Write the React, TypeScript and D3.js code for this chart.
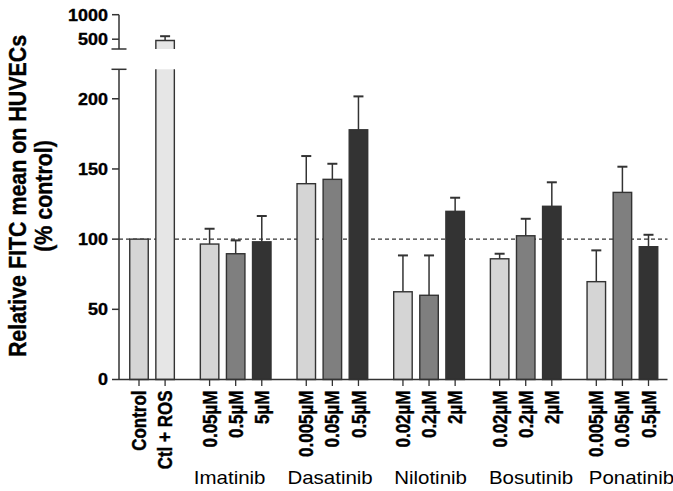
import React from 'react';
import * as d3 from 'd3';

const tickLabels = ['Control', 'Ctl + ROS', '0.05µM', '0.5µM', '5µM', '0.005µM', '0.05µM', '0.5µM', '0.02µM', '0.2µM', '2µM', '0.02µM', '0.2µM', '2µM', '0.005µM', '0.05µM', '0.5µM'];
const groupNames = ['Imatinib', 'Dasatinib', 'Nilotinib', 'Bosutinib', 'Ponatinib'];
const groupOf = [0, 0, 1, 1, 1, 2, 2, 2, 3, 3, 3, 4, 4, 4, 5, 5, 5];
const means = [100, 472, 96.5, 89.6, 98.1, 139.5, 142.6, 177.9, 62.5, 60.0, 119.8, 86, 102.4, 123.4, 69.7, 133.3, 94.6];
const errs = [0, 89, 10.9, 9.5, 18.4, 19.7, 11.1, 23.8, 25.9, 28.4, 9.7, 3.6, 12.1, 17.1, 22.3, 18.3, 8.5];
const shades = ['light', 'lighter', 'light', 'mid', 'dark', 'light', 'mid', 'dark', 'light', 'mid', 'dark', 'light', 'mid', 'dark', 'light', 'mid', 'dark'];
const lowerTicks = [0, 50, 100, 150, 200];
const upperTicks = [500, 1000];
const refValue = 100;

const fills: Record<string, string> = { lighter: '#e6e6e6', light: '#d5d5d5', mid: '#7f7f7f', dark: '#333333' };
const INK = '#333333';
const FONT = '"Liberation Sans", Arial, Helvetica, sans-serif';
const boldStyle = { fontWeight: 'bold' as const, fill: '#000', stroke: '#000', strokeWidth: 0.35 };

export default function App() {
  const W = 673, H = 491;
  const axisX = 119;
  const gap = 0.705;
  const pos = tickLabels.map((_, i) => i + gap * groupOf[i]);
  const x = d3.scaleLinear().domain([0, pos[pos.length - 1]]).range([139, 648.5]);
  const yLow = d3.scaleLinear().domain([0, 221]).range([379.5, 69.3]);
  const yUp = d3.scaleLinear().domain([300, 1000]).range([49, 14.7]);
  const barW = 18.5;
  const xEnd = 667.5;
  const capW = 10;

  const groupCenters = groupNames.map((_, g) => {
    const idx = groupOf.map((v, i) => (v === g + 1 ? i : -1)).filter(i => i >= 0);
    return d3.mean(idx.map(i => x(pos[i]))) as number;
  });
  const labelX = d3.scaleLinear().domain([0, groupNames.length - 1]).range([groupCenters[0] - 6, groupCenters[groupCenters.length - 1] + 9]);

  return (
    <svg width={W} height={H} style={{ position: 'absolute', left: 0, top: 0 }} fontFamily={FONT}>
      <rect width={W} height={H} fill="#fff" />
      <line x1={axisX} x2={xEnd} y1={yLow(refValue)} y2={yLow(refValue)} stroke={INK} strokeWidth={1.3} strokeDasharray="4 3" />
      {means.map((m, i) => {
        const cx = x(pos[i]);
        const x0 = cx - barW / 2, x1 = cx + barW / 2;
        const broken = m > yLow.domain()[1];
        if (!broken) {
          const yt = yLow(m);
          const ye = yLow(m + errs[i]);
          return (
            <g key={i}>
              {errs[i] > 0 && (
                <g stroke={INK}>
                  <line x1={cx} x2={cx} y1={yt} y2={ye} strokeWidth={1.5} />
                  <line x1={cx - capW / 2} x2={cx + capW / 2} y1={ye} y2={ye} strokeWidth={2} />
                </g>
              )}
              <rect x={x0} y={yt} width={barW} height={yLow(0) - yt} fill={fills[shades[i]]} stroke={INK} strokeWidth={1.4} />
            </g>
          );
        }
        const yTopLow = yLow(yLow.domain()[1]);
        const yBotUp = yUp(yUp.domain()[0]);
        const yt = yUp(m);
        const ye = yUp(m + errs[i]);
        return (
          <g key={i}>
            <g stroke={INK}>
              <line x1={cx} x2={cx} y1={yt} y2={ye} strokeWidth={1.5} />
              <line x1={cx - capW / 2} x2={cx + capW / 2} y1={ye} y2={ye} strokeWidth={2} />
            </g>
            <rect x={x0} y={yTopLow} width={barW} height={yLow(0) - yTopLow} fill={fills[shades[i]]} />
            <path d={`M${x0},${yTopLow}V${yLow(0)}H${x1}V${yTopLow}`} fill="none" stroke={INK} strokeWidth={1.4} />
            <rect x={x0} y={yt} width={barW} height={yBotUp - yt} fill={fills[shades[i]]} />
            <path d={`M${x0},${yBotUp}V${yt}H${x1}V${yBotUp}`} fill="none" stroke={INK} strokeWidth={1.4} />
          </g>
        );
      })}
      <line x1={axisX} x2={axisX} y1={yLow(0)} y2={yLow(221)} stroke={INK} strokeWidth={1.5} />
      <line x1={axisX - 7.5} x2={axisX + 7.5} y1={yLow(221)} y2={yLow(221)} stroke={INK} strokeWidth={1.5} />
      {lowerTicks.map(t => (
        <g key={t}>
          <line x1={axisX - 7} x2={axisX} y1={yLow(t)} y2={yLow(t)} stroke={INK} strokeWidth={1.5} />
          <text transform={`translate(${axisX - 11},${yLow(t)}) scale(1.1,1)`} dy="0.36em" textAnchor="end" fontSize={16.3} style={boldStyle}>{t}</text>
        </g>
      ))}
      <line x1={axisX} x2={axisX} y1={yUp(300)} y2={yUp(1000)} stroke={INK} strokeWidth={1.5} />
      <line x1={axisX - 7.5} x2={axisX + 7.5} y1={yUp(300)} y2={yUp(300)} stroke={INK} strokeWidth={1.5} />
      {upperTicks.map(t => (
        <g key={t}>
          <line x1={axisX - 7} x2={axisX} y1={yUp(t)} y2={yUp(t)} stroke={INK} strokeWidth={1.5} />
          <text transform={`translate(${axisX - 11},${yUp(t)}) scale(1.1,1)`} dy="0.36em" textAnchor="end" fontSize={16.3} style={boldStyle}>{t}</text>
        </g>
      ))}
      <line x1={axisX} x2={xEnd} y1={yLow(0)} y2={yLow(0)} stroke={INK} strokeWidth={1.5} />
      {tickLabels.map((lab, i) => (
        <g key={i}>
          <line x1={x(pos[i])} x2={x(pos[i])} y1={yLow(0)} y2={yLow(0) + 6.5} stroke={INK} strokeWidth={1.3} />
          <text transform={`translate(${x(pos[i])},${yLow(0) + 11}) rotate(-90) scale(1,1.15)`} dy="0.36em" textAnchor="end" fontSize={17} style={boldStyle}>{lab}</text>
        </g>
      ))}
      {groupNames.map((g, k) => (
        <text key={g} transform={`translate(${labelX(k)},483.5) scale(1.1,1)`} textAnchor="middle" fontSize={18.6} fill="#000">{g}</text>
      ))}
      <g transform="translate(26,196) rotate(-90) scale(1,1.12)">
        <text textAnchor="middle" fontSize={21.4} style={boldStyle}>Relative FITC mean on HUVECs</text>
        <text y={23} textAnchor="middle" fontSize={21.4} style={boldStyle}>(% control)</text>
      </g>
    </svg>
  );
}
